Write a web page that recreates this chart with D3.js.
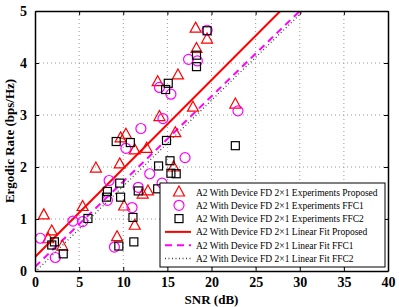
<!DOCTYPE html>
<html>
<head>
<meta charset="utf-8">
<script src="https://cdn.jsdelivr.net/npm/d3@7"></script>
<style>
body{margin:0;background:#fff;}
svg{display:block;}
</style>
</head>
<body>
<div id="chart"></div>
<script>
(function(){
var width = 399,
	height = 307,
	margin = {top:11, right:11, bottom:36, left:35};

// data: [SNR dB, rate bps/Hz]
var proposed = [[1.0,1.08],[1.5,0.62],[1.9,0.77],[3.1,0.48],[5.4,1.24],[6.9,1.98],[9.3,0.66],[9.6,2.06],
	[10.1,1.25],[11.3,0.88],[9.7,2.56],[10.3,2.63],[11.3,2.33],[12.65,2.36],[12.2,1.48],[12.8,1.54],
	[14.1,2.97],[15.9,2.66],[15.7,2.0],[17.9,3.15],[13.9,3.64],[16.2,3.77],[18.3,4.28],[18.2,4.67],
	[19.5,4.46],[22.7,3.21]];
var ffc1 = [[0.6,0.63],[2.3,0.26],[4.3,0.96],[5.4,0.95],[8.4,1.74],[8.2,1.36],[9.0,0.46],[11.0,1.22],
	[11.7,1.61],[13.0,1.87],[14.4,1.69],[17.0,2.18],[10.3,2.36],[12.0,2.74],[14.5,2.93],[14.1,3.53],
	[15.4,3.40],[17.4,4.07],[18.4,4.04],[19.5,4.63],[23.0,3.08]];
var ffc2 = [[1.9,0.5],[2.2,0.56],[3.2,0.33],[6.0,1.01],[8.1,1.42],[8.2,1.53],[9.6,1.69],[9.7,1.42],
	[11.1,1.03],[11.2,0.56],[9.5,0.48],[11.7,1.54],[13.9,1.58],[14.0,2.02],[15.3,2.12],[15.4,1.88],
	[16.0,1.87],[9.2,2.49],[10.8,2.47],[14.9,2.51],[15.1,3.61],[14.8,3.49],[18.3,4.15],[18.3,3.93],
	[19.5,4.62],[22.7,2.41]];
// linear fits, as end points
var fitProposed = [[0,0.27],[27.8,5]],
	fitFFC1 = [[0,0.08],[30.0,5]],
	fitFFC2 = [[0,-0.02],[30.4,5]];

var xTicks = [0,5,10,15,20,25,30,35,40],
	yTicks = [0,1,2,3,4,5];

var legendLabels = [
	"A2 With Device FD 2\u00d71 Experiments Proposed",
	"A2 With Device FD 2\u00d71 Experiments FFC1",
	"A2 With Device FD 2\u00d71 Experiments FFC2",
	"A2 With Device FD 2\u00d71 Linear Fit Proposed",
	"A2 With Device FD 2\u00d71 Linear Fit FFC1",
	"A2 With Device FD 2\u00d71 Linear Fit FFC2"
];

var w = width - margin.left - margin.right,
	h = height - margin.top - margin.bottom;

var X = d3.scaleLinear().domain([0,40]).range([0,w]);
var Y = d3.scaleLinear().domain([0,5]).range([h,0]);

var svg = d3.select("#chart").append("svg")
	.attr("width",width)
	.attr("height",height)
	.style("font-family","'Liberation Serif','Times New Roman',serif");

var g = svg.append("g").attr("transform","translate("+margin.left+","+margin.top+")");

// grid
g.append("g").selectAll("line").data(xTicks.slice(1,-1)).enter().append("line")
	.attr("x1",X).attr("x2",X).attr("y1",0).attr("y2",h)
	.attr("stroke","#999").attr("stroke-width",1).attr("stroke-dasharray","1,3");
g.append("g").selectAll("line").data(yTicks.slice(1,-1)).enter().append("line")
	.attr("y1",Y).attr("y2",Y).attr("x1",0).attr("x2",w)
	.attr("stroke","#999").attr("stroke-width",1).attr("stroke-dasharray","1,3");

// clip for fit lines
svg.append("defs").append("clipPath").attr("id","clip")
	.append("rect").attr("width",w).attr("height",h);

var line = d3.line().x(function(d){return X(d[0])}).y(function(d){return Y(d[1])});
var fits = g.append("g").attr("clip-path","url(#clip)");
fits.append("path").datum(fitFFC2).attr("d",line).attr("fill","none")
	.attr("stroke","#444").attr("stroke-width",1.3).attr("stroke-dasharray","1,2.5");
fits.append("path").datum(fitFFC1).attr("d",line).attr("fill","none")
	.attr("stroke","#ff00ff").attr("stroke-width",2).attr("stroke-dasharray","7,5");
fits.append("path").datum(fitProposed).attr("d",line).attr("fill","none")
	.attr("stroke","#ff0000").attr("stroke-width",2);

// markers
function tri(sel){
	sel.append("path").attr("d","M0,-6L5.5,4L-5.5,4Z").attr("fill","none")
		.attr("stroke","#ff0000").attr("stroke-width",1.2);
}
function circ(sel){
	sel.append("circle").attr("r",5).attr("fill","none")
		.attr("stroke","#ff00ff").attr("stroke-width",1.2);
}
function sq(sel){
	sel.append("rect").attr("x",-4).attr("y",-4).attr("width",8).attr("height",8).attr("fill","none")
		.attr("stroke","#000").attr("stroke-width",1.2);
}

var series = [[proposed,tri],[ffc1,circ],[ffc2,sq]];
series.forEach(function(s){
	g.append("g").selectAll("g").data(s[0]).enter().append("g")
		.attr("transform",function(d){return "translate("+X(d[0])+","+Y(d[1])+")"})
		.call(s[1]);
});

// axes, ticks inside, box on all sides
var fmt = d3.format("d");
var xb = g.append("g").attr("transform","translate(0,"+h+")")
	.call(d3.axisBottom(X).tickValues(xTicks).tickFormat(fmt).tickSizeInner(-4).tickSizeOuter(0).tickPadding(6));
var yl = g.append("g")
	.call(d3.axisLeft(Y).tickValues(yTicks).tickFormat(fmt).tickSizeInner(-4).tickSizeOuter(0).tickPadding(8));
var xt = g.append("g")
	.call(d3.axisTop(X).tickValues(xTicks).tickSizeInner(-4).tickSizeOuter(0).tickFormat(""));
var yr = g.append("g").attr("transform","translate("+w+",0)")
	.call(d3.axisRight(Y).tickValues(yTicks).tickSizeInner(-4).tickSizeOuter(0).tickFormat(""));
[xb,yl,xt,yr].forEach(function(a){
	a.selectAll(".domain").attr("stroke","#000").attr("stroke-width",1.5);
	a.selectAll(".tick line").attr("stroke","#000");
	a.selectAll("text").attr("fill","#000")
		.style("font-family","'Liberation Serif','Times New Roman',serif")
		.style("font-size","14px").style("font-weight","bold");
});

// legend
var lg = g.append("g").attr("transform","translate("+(160-margin.left)+","+(183-margin.top)+")");
lg.append("rect").attr("width",225).attr("height",84).attr("fill","#fff")
	.attr("stroke","#000").attr("stroke-width",1);
var row = function(i){return 9+i*13.3};
legendLabels.forEach(function(t,i){
	var it = lg.append("g").attr("transform","translate(0,"+row(i)+")");
	if(i==0) it.append("g").attr("transform","translate(19,0)").call(tri);
	if(i==1) it.append("g").attr("transform","translate(19,0)").call(circ);
	if(i==2) it.append("g").attr("transform","translate(19,0)").call(sq);
	if(i==3) it.append("line").attr("x1",5).attr("x2",31).attr("stroke","#ff0000").attr("stroke-width",2);
	if(i==4) it.append("line").attr("x1",5).attr("x2",31).attr("stroke","#ff00ff").attr("stroke-width",2).attr("stroke-dasharray","7,5");
	if(i==5) it.append("line").attr("x1",5).attr("x2",31).attr("stroke","#444").attr("stroke-width",1.3).attr("stroke-dasharray","1,2.5");
	it.append("text").attr("x",36).attr("y",3.5).attr("font-size","9.5px").attr("fill","#000").text(t);
});

// axis titles
svg.append("text").attr("x",margin.left+w/2).attr("y",304).attr("text-anchor","middle")
	.attr("font-size","13px").attr("font-weight","bold").text("SNR (dB)");
svg.append("text").attr("transform","translate(14,"+(margin.top+h/2)+") rotate(-90)")
	.attr("text-anchor","middle").attr("font-size","13px").attr("font-weight","bold")
	.text("Ergodic Rate (bps/Hz)");
})()
</script>
</body>
</html>
